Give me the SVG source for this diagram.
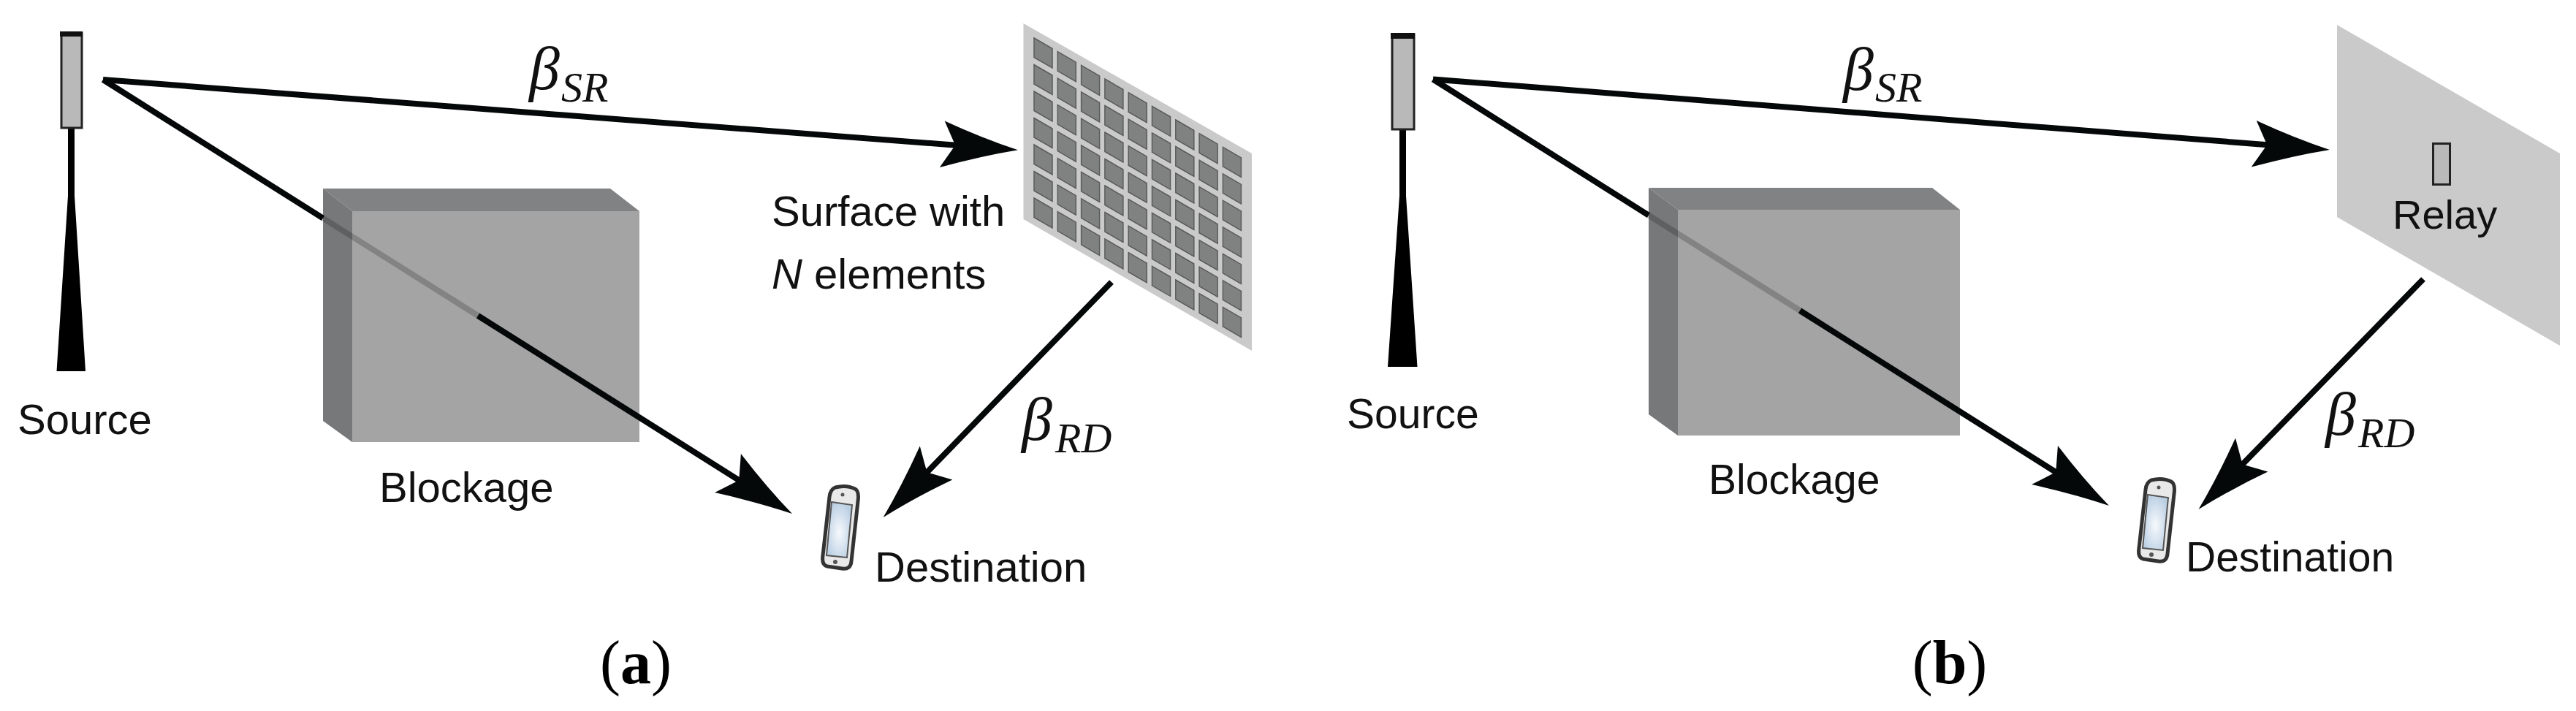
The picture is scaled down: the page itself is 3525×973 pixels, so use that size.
<svg xmlns="http://www.w3.org/2000/svg" xmlns:xlink="http://www.w3.org/1999/xlink" width="3525" height="973" viewBox="0 0 3525 973">
<style>
.lbl{font-family:"Liberation Sans",Arial,sans-serif;fill:#111}
.s58{font-size:58px}.s57{font-size:57px}
.mth{font-family:"Liberation Serif","Times New Roman",serif;font-style:italic;fill:#111}
.beta{font-size:84px}.sub{font-size:58px}
.cap{font-family:"Liberation Serif","Times New Roman",serif;font-size:84px;fill:#000;text-anchor:middle}
.line{fill:none;stroke:#040808;stroke-width:8}
.arr{marker-end:url(#head)}
.thru{fill:none;stroke:#000;stroke-width:8;stroke-opacity:.2}
.top{fill:#818284}.side{fill:#77787a}.front{fill:#a4a4a4}
.panel{fill:#cbcacb}
.cell{fill:#808282;stroke:#5a5b5b;stroke-width:1.5}
.ant{fill:#b9b9b9;stroke:#222;stroke-width:3}
</style>
<defs>
<marker id="head" markerUnits="userSpaceOnUse" markerWidth="110" markerHeight="70" viewBox="0 0 110 70" refX="75" refY="35" orient="auto">
<path d="M105 35Q56 23 2 3L19 35L0 67Q56 47 105 35Z" fill="#040808"/>
</marker>
<radialGradient id="scr" cx=".5" cy=".55" r=".55"><stop offset="0" stop-color="#f6f9fc"/><stop offset="1" stop-color="#bcd0e4"/></radialGradient>
<g id="phone">
<path d="M1143 667Q1158 663 1170 669Q1176 672 1174 686L1165 768Q1164 780 1152 778L1132 775Q1124 773 1126 760L1135 680Q1136 670 1143 667Z" fill="#e9e9e9" stroke="#333" stroke-width="5"/>
<path d="M1138 687L1166 691L1159 763L1131 760Z" fill="url(#scr)" stroke="#555" stroke-width="2"/>
<circle cx="1153" cy="677" r="2.500" fill="#555"/><circle cx="1143" cy="769" r="3" fill="#555"/>
</g>
<polygon id="c" class="cell" points="1415,52 1440,66.500 1440,93 1415,78.500"/>
<g id="col"><use href="#c"/><use href="#c" y="36.500"/><use href="#c" y="73"/><use href="#c" y="109.500"/><use href="#c" y="146"/><use href="#c" y="182.500"/><use href="#c" y="219"/></g>
</defs>
<rect width="3525" height="973" fill="#fff"/>

<g id="source-a">
<polygon points="93,175 102,175 102,268 117,508 77.500,508 93,268" fill="#000"/>
<rect class="ant" x="84" y="45" width="28" height="130"/><rect x="82" y="43" width="31" height="7" fill="#111"/>
<text class="lbl s58" x="24" y="594">Source</text>
</g>
<g id="blockage-a">
<polygon class="top" points="442,258 835,258 875,289 482,289"/>
<polygon class="side" points="442,258 482,289 482,605 442,576"/>
<rect class="front" x="482" y="289" width="393" height="316"/>
<text class="lbl s58" x="519" y="687">Blockage</text>
</g>
<g id="surface-a">
<polygon class="panel" points="1400.500,32 1713,210 1713,480 1400.500,300"/>
<use href="#col"/><use href="#col" x="32.300" y="18.670"/><use href="#col" x="64.600" y="37.340"/><use href="#col" x="96.900" y="56"/><use href="#col" x="129.200" y="74.700"/><use href="#col" x="161.500" y="93.300"/><use href="#col" x="193.800" y="112"/><use href="#col" x="226.100" y="130.700"/><use href="#col" x="258.400" y="149.400"/>
<text class="lbl s58" x="1056" y="309">Surface with</text>
<text class="lbl s58" x="1056" y="395"><tspan font-style="italic">N</tspan> elements</text>
</g>
<g id="destination-a">
<use href="#phone"/>
<text class="lbl s58" x="1197" y="796">Destination</text>
</g>

<g id="source-b">
<polygon points="1915,177 1924,177 1924,268 1939.500,502 1899,502 1915,268" fill="#000"/>
<rect class="ant" x="1905" y="47" width="30" height="130"/><rect x="1903" y="45" width="33" height="8" fill="#111"/>
<text class="lbl s57" x="1843" y="586">Source</text>
</g>
<g id="blockage-b">
<polygon class="top" points="2256,257 2644,257 2682,287 2296,287"/>
<polygon class="side" points="2256,257 2296,287 2296,596 2256,567"/>
<rect class="front" x="2296" y="287" width="386" height="309"/>
<text class="lbl s57" x="2338" y="676">Blockage</text>
</g>
<g id="relay-b">
<polygon class="panel" points="3198,34 3503,210 3503,473 3198,297"/>
<rect class="ant" x="3329.500" y="196.500" width="23" height="56"/>
<text class="lbl" font-size="56" x="3274" y="313">Relay</text>
</g>
<g id="destination-b">
<use href="#phone" transform="translate(1801 -10)"/>
<text class="lbl s57" x="2991" y="782">Destination</text>
</g>

<g id="connectors">
<path class="line arr" d="M141 109L1363 203"/>
<path class="line" d="M141 109L442 298.600"/>
<path class="thru" d="M442 298.600L654 432"/>
<path class="line arr" d="M654 432L1058.600 687"/>
<path class="line arr" d="M1521 386L1229.500 686.500"/>
<path class="line arr" d="M1961 108.500L3158 202.600"/>
<path class="line" d="M1961 108.500L2256 294.600"/>
<path class="thru" d="M2256 294.600L2463 425"/>
<path class="line arr" d="M2463 425L2860.600 676"/>
<path class="line arr" d="M3316 382L3029.500 675.500"/>
</g>

<g id="labels">
<text class="mth" x="724" y="122"><tspan class="beta">β</tspan><tspan class="sub" x="768" y="139">SR</tspan></text>
<text class="mth" x="1398" y="602"><tspan class="beta">β</tspan><tspan class="sub" x="1444" y="619">RD</tspan></text>
<text class="mth" x="2522" y="123"><tspan class="beta">β</tspan><tspan class="sub" x="2566" y="139">SR</tspan></text>
<text class="mth" x="3182" y="595"><tspan class="beta">β</tspan><tspan class="sub" x="3227" y="612">RD</tspan></text>
<text class="cap" x="870" y="935">(<tspan font-weight="bold">a</tspan>)</text>
<text class="cap" x="2668" y="935">(<tspan font-weight="bold">b</tspan>)</text>
</g>
</svg>
